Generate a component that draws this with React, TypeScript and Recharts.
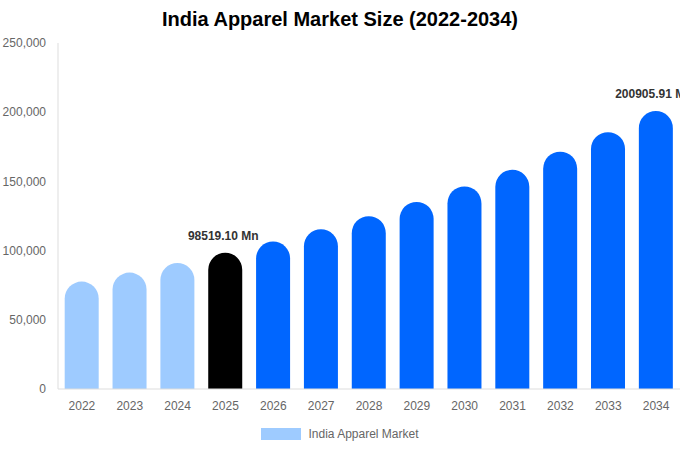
import { Bar, BarChart, Cell, LabelList, Legend, XAxis, YAxis } from 'recharts';

const years = ['2022', '2023', '2024', '2025', '2026', '2027', '2028', '2029', '2030', '2031', '2032', '2033', '2034'];
const marketSize = [77600, 84100, 91000, 98519.1, 106600, 115400, 124900, 135200, 146400, 158400, 171500, 185600, 200905.91];
const barColors = ['#9ECBFF', '#9ECBFF', '#9ECBFF', '#000000', '#0066FF', '#0066FF', '#0066FF', '#0066FF', '#0066FF', '#0066FF', '#0066FF', '#0066FF', '#0066FF'];
const labelledYears = ['2025', '2034'];
const yTicks = [0, 50000, 100000, 150000, 200000, 250000];

const data = years.map((year, i) => ({ year, value: marketSize[i] }));

const FONT = '"Liberation Sans", Arial, sans-serif';

function ValueLabel(props: any) {
  const { x, y, width, index } = props;
  if (!labelledYears.includes(years[index])) return null;
  return (
    <text x={x + width / 2 - 2} y={y - 13} textAnchor="middle" fill="#333" fontSize={12} fontWeight="bold" fontFamily={FONT}>
      {`${marketSize[index].toFixed(2)} Mn`}
    </text>
  );
}

function LegendContent() {
  return (
    <div style={{ display: 'flex', justifyContent: 'center', alignItems: 'center', fontFamily: FONT, fontSize: 12, color: '#666' }}>
      <span style={{ display: 'inline-block', width: 40, height: 12, background: '#9ECBFF', marginRight: 7 }} />
      <span>India Apparel Market</span>
    </div>
  );
}

export default function App() {
  return (
    <div style={{ position: 'absolute', left: 0, top: 0, width: 680, height: 450, background: '#fff', fontFamily: FONT }}>
      <div style={{ position: 'absolute', top: 8, left: 0, width: 680, textAlign: 'center', fontSize: 20, fontWeight: 'bold', color: '#000' }}>
        India Apparel Market Size (2022-2034)
      </div>
      <BarChart width={680} height={450} data={data} margin={{ top: 43, right: 0, left: 0, bottom: 17 }} barCategoryGap="14%">
        <XAxis
          dataKey="year"
          tick={{ fill: '#666', fontSize: 12, fontFamily: FONT }}
          tickLine={false}
          axisLine={{ stroke: '#ddd' }}
          tickMargin={6}
          height={30}
        />
        <YAxis
          domain={[0, 250000]}
          ticks={yTicks}
          tickFormatter={(v: number) => v.toLocaleString('en-US')}
          tick={{ fill: '#666', fontSize: 12, fontFamily: FONT }}
          tickLine={false}
          axisLine={{ stroke: '#ddd' }}
          tickMargin={6}
          width={58}
        />
        <Legend verticalAlign="bottom" content={<LegendContent />} wrapperStyle={{ bottom: 9 }} />
        <Bar dataKey="value" radius={[17, 17, 0, 0]} isAnimationActive={false}>
          {data.map((d, i) => (
            <Cell key={d.year} fill={barColors[i]} />
          ))}
          <LabelList dataKey="value" content={<ValueLabel />} />
        </Bar>
      </BarChart>
    </div>
  );
}
